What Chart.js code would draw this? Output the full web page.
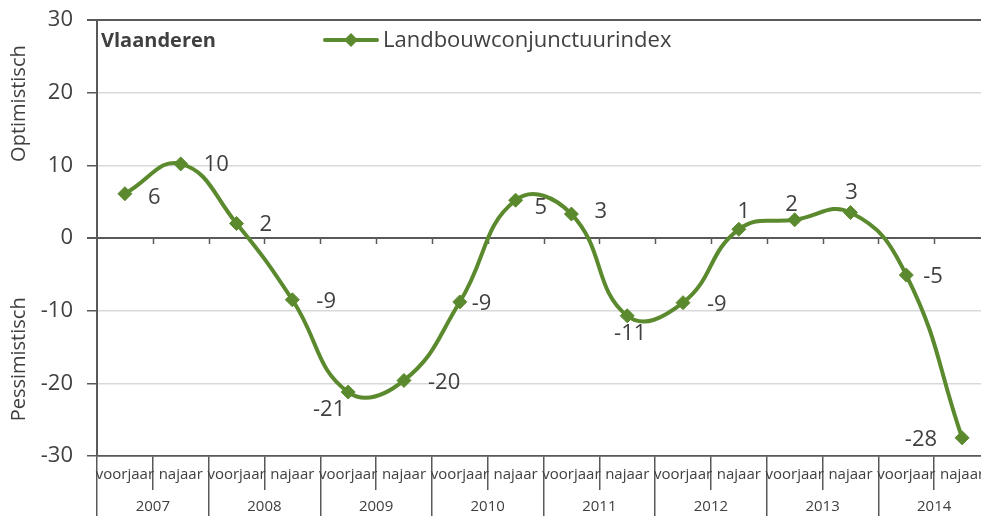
<!DOCTYPE html>
<html>
<head>
<meta charset="utf-8">
<script src="https://cdn.jsdelivr.net/npm/chart.js@4/dist/chart.umd.min.js"></script>
<style>
    html, body { margin: 0; padding: 0; background: #fff; overflow: hidden; }
    #wrap { width: 1000px; height: 516px; }
</style>
</head>
<body>
<div id="wrap"><canvas id="chart" width="1000" height="516"></canvas></div>
<script>
// Data
var seasons = ['voorjaar', 'najaar', 'voorjaar', 'najaar', 'voorjaar', 'najaar', 'voorjaar', 'najaar',
               'voorjaar', 'najaar', 'voorjaar', 'najaar', 'voorjaar', 'najaar', 'voorjaar', 'najaar'];
var years = ['2007', '2008', '2009', '2010', '2011', '2012', '2013', '2014'];
var indexValues = [6.1, 10.2, 2.0, -8.5, -21.2, -19.6, -8.8, 5.2, 3.3, -10.7, -8.9, 1.2, 2.5, 3.5, -5.1, -27.5];
var indexLabels = ['6', '10', '2', '-9', '-21', '-20', '-9', '5', '3', '-11', '-9', '1', '2', '3', '-5', '-28'];
var yTicks = { min: -30, max: 30, step: 10 };

// Where each value label sits relative to its point: [dx, dy, align]
var labelPlacement = [
    [23, 4, 'left'], [23, 1, 'left'], [23, 1, 'left'], [24, 2, 'left'],
    [-19, 18, 'center'], [24, 2, 'left'], [12, 2, 'left'], [19, 8, 'left'],
    [23, -2, 'left'], [3, 18, 'center'], [24, 2, 'left'], [5, -18, 'center'],
    [-3, -15, 'center'], [1, -20, 'center'], [17, 2, 'left'], [-25, 2, 'right']
];

var green = '#5B8A2E';
var textColor = '#404040';
var axisColor = '#595959';
var gridColor = '#D9D9D9';
var fontFamily = '"Open Sans", "Noto Sans", sans-serif';

// Extra drawing: value labels, legend, side titles, small ticks on the zero line
var extras = {
    id: 'extras',
    beforeDatasetsDraw: function (chart) {
        var ctx = chart.ctx;
        var y = chart.scales.y;
        var y0 = y.getPixelForValue(0);
        var slot = (chart.chartArea.right - chart.chartArea.left) / seasons.length;
        ctx.save();
        ctx.strokeStyle = axisColor;
        ctx.lineWidth = 1.5;
        for (var i = 1; i < seasons.length; i++) {
            var px = Math.round(chart.chartArea.left + i * slot) + 0.5;
            ctx.beginPath();
            ctx.moveTo(px, y0);
            ctx.lineTo(px, y0 + 6);
            ctx.stroke();
        }
        ctx.restore();
    },
    afterDraw: function (chart) {
        var ctx = chart.ctx;
        var y = chart.scales.y;
        var area = chart.chartArea;
        ctx.save();

        // value labels
        ctx.fillStyle = textColor;
        ctx.font = '22px ' + fontFamily;
        ctx.textBaseline = 'middle';
        var meta = chart.getDatasetMeta(0);
        meta.data.forEach(function (pt, i) {
            var p = labelPlacement[i];
            ctx.textAlign = p[2];
            ctx.fillText(indexLabels[i], pt.x + p[0], pt.y + p[1]);
        });

        // region name
        ctx.font = 'bold 20px ' + fontFamily;
        ctx.textAlign = 'left';
        ctx.fillText('Vlaanderen', area.left + 4, area.top + 21);

        // legend
        var ly = area.top + 20;
        ctx.strokeStyle = green;
        ctx.lineWidth = 4;
        ctx.lineCap = 'round';
        ctx.beginPath();
        ctx.moveTo(325, ly);
        ctx.lineTo(377, ly);
        ctx.stroke();
        ctx.fillStyle = green;
        ctx.beginPath();
        ctx.moveTo(351, ly - 7);
        ctx.lineTo(358, ly);
        ctx.lineTo(351, ly + 7);
        ctx.lineTo(344, ly);
        ctx.closePath();
        ctx.fill();
        ctx.fillStyle = textColor;
        ctx.font = '22px ' + fontFamily;
        ctx.fillText(chart.data.datasets[0].label, 383, ly + 1);

        // side titles
        ctx.font = '20px ' + fontFamily;
        ctx.textAlign = 'center';
        [['Optimistisch', 18.5], ['Pessimistisch', -16.7]].forEach(function (t) {
            ctx.save();
            ctx.translate(19, y.getPixelForValue(t[1]));
            ctx.rotate(-Math.PI / 2);
            ctx.fillText(t[0], 0, 0);
            ctx.restore();
        });
        ctx.restore();
    }
};

var ctx = document.getElementById('chart').getContext('2d');
var chart = new Chart(ctx, {
    type: 'line',
    data: {
        labels: seasons,
        datasets: [{
            label: 'Landbouwconjunctuurindex',
            data: indexValues,
            borderColor: green,
            backgroundColor: green,
            borderWidth: 4,
            tension: 0.45,
            pointStyle: 'rectRot',
            pointRadius: 7,
            pointHoverRadius: 7,
            pointBackgroundColor: green,
            pointBorderColor: green,
            pointBorderWidth: 1,
            fill: false
        }]
    },
    options: {
        responsive: false,
        animation: false,
        devicePixelRatio: 1,
        layout: { padding: { top: 20, right: 10, left: 0, bottom: 0 } },
        plugins: {
            legend: { display: false },
            tooltip: { enabled: false }
        },
        scales: {
            x: {
                type: 'category',
                position: 'bottom',
                weight: 0,
                offset: true,
                grid: {
                    offset: true,
                    drawOnChartArea: false,
                    drawTicks: true,
                    tickLength: 34,
                    color: axisColor,
                    lineWidth: 1.5
                },
                border: { display: true, color: axisColor, width: 1.5 },
                ticks: {
                    autoSkip: false,
                    maxRotation: 0,
                    minRotation: 0,
                    padding: -24,
                    color: textColor,
                    font: { family: fontFamily, size: 15 }
                },
                afterFit: function (scale) { scale.height = 34; }
            },
            x2: {
                type: 'category',
                position: 'bottom',
                weight: 1,
                labels: years,
                offset: true,
                grid: {
                    offset: true,
                    drawOnChartArea: false,
                    drawTicks: true,
                    tickLength: 26,
                    color: axisColor,
                    lineWidth: 1.5
                },
                border: { display: false },
                ticks: {
                    autoSkip: false,
                    maxRotation: 0,
                    minRotation: 0,
                    padding: -18,
                    color: textColor,
                    font: { family: fontFamily, size: 15 }
                },
                afterFit: function (scale) { scale.height = 26; }
            },
            y: {
                min: yTicks.min,
                max: yTicks.max,
                grid: {
                    color: function (c) {
                        var v = c.tick.value;
                        return (v === 0 || v === yTicks.max || v === yTicks.min) ? axisColor : gridColor;
                    },
                    lineWidth: function (c) {
                        var v = c.tick.value;
                        return (v === 0 || v === yTicks.max) ? 2 : 1.5;
                    },
                    tickColor: axisColor,
                    tickLength: 10
                },
                border: { display: true, color: axisColor, width: 2 },
                ticks: {
                    stepSize: yTicks.step,
                    padding: 14,
                    color: textColor,
                    font: { family: fontFamily, size: 22 }
                },
                afterFit: function (scale) {
                    scale.width = 97;
                    scale.paddingTop = 0;
                    scale.paddingBottom = 0;
                }
            }
        }
    },
    plugins: [extras]
});
</script>
</body>
</html>
